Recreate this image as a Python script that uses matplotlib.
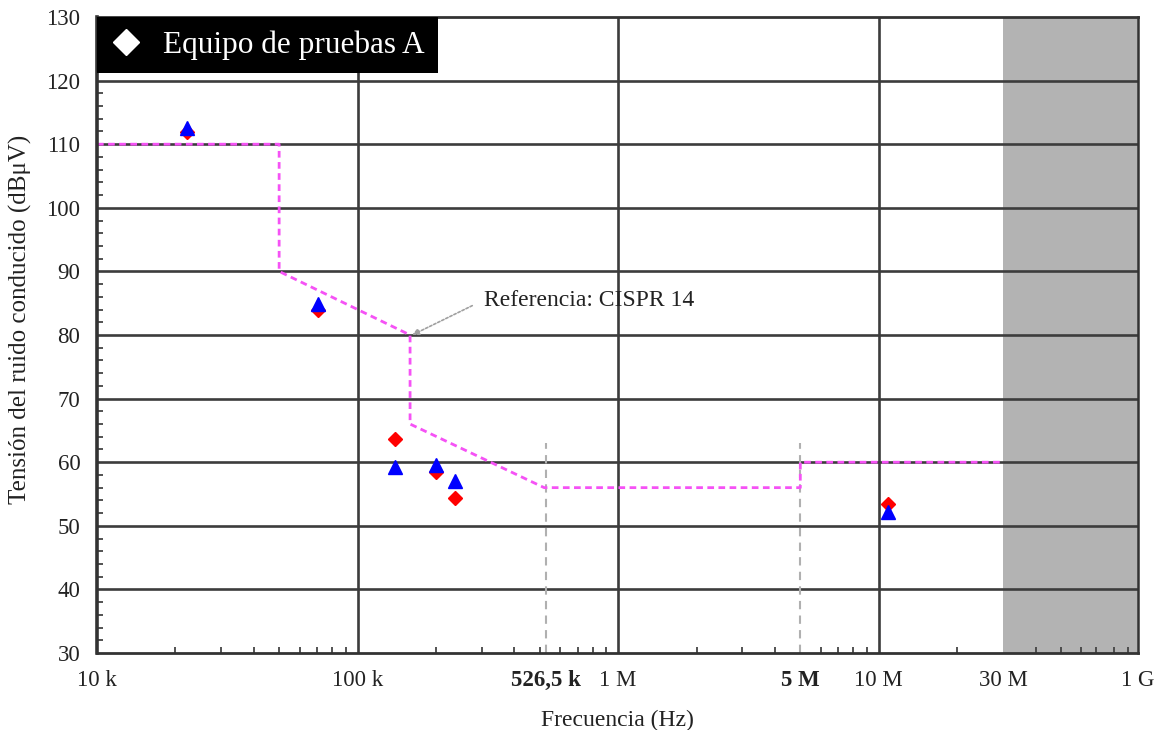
import numpy as np
import matplotlib
matplotlib.use("Agg")
import matplotlib.pyplot as plt
from matplotlib.lines import Line2D

plt.rcParams['font.family'] = ['Liberation Serif', 'DejaVu Serif']

# Measured conducted noise, test equipment A
freq_hz = [22.1e3, 70.7e3, 139e3, 200e3, 236e3, 10.9e6]
level_red = [111.9, 83.9, 63.6, 58.4, 54.4, 53.4]
level_blue = [112.5, 84.9, 59.3, 59.6, 57.0, 52.2]

# CISPR 14 reference limit (corner points)
limit_hz = [1e4, 5e4, 5e4, 1.59e5, 1.59e5, 5.2e5, 5e6, 5e6, 3e7]
limit_db = [110, 110, 90, 80, 66, 56, 56, 60, 60]

# Axis ticks
xtick_hz = [1e4, 1e5, 526.5e3, 1e6, 5e6, 1e7, 3e7, 1e9]
xtick_labels = ['10 k', '100 k', '526,5 k', '1 M', '5 M', '10 M', '30 M', '1 G']
bold_labels = ['526,5 k', '5 M']
marker_lines_hz = [526.5e3, 5e6]
ytick_db = list(range(30, 131, 10))

# Frequency axis: logarithmic up to 30 MHz, compressed above it
L30 = np.log10(3e7)
K = 0.34


def fwd(x):
    x = np.asarray(x, dtype=float)
    lx = np.log10(np.clip(x, 1e-300, None))
    return np.where(lx <= L30, lx, L30 + (lx - L30) * K)


def inv(y):
    y = np.asarray(y, dtype=float)
    return np.where(y <= L30, 10.0 ** y, 10.0 ** (L30 + (y - L30) / K))


fig = plt.figure(figsize=(11.56, 7.30), dpi=100)
ax = fig.add_axes([97 / 1156, 1 - 653 / 730, (1138 - 97) / 1156, (653 - 17) / 730])
ax.set_xscale('function', functions=(fwd, inv))
ax.set_xlim(1e4, 1e9)
ax.set_ylim(30, 130)

# Out-of-range band above 30 MHz
ax.axvspan(3e7, 1e9, color='#b3b3b3', zorder=0.5, lw=0)

# Grid
grid_col = '#3c3c3c'
for y in ytick_db[1:-1]:
    ax.axhline(y, color=grid_col, lw=1.9, zorder=1.5)
for xv in [1e5, 1e6, 1e7]:
    ax.axvline(xv, color=grid_col, lw=1.9, zorder=1.5)

# Band markers at 526.5 kHz and 5 MHz
for xv in marker_lines_hz:
    ax.plot([xv, xv], [30, 63], color='#b0b0b0', lw=1.5, ls=(0, (4, 3)), zorder=1.6)

# Reference limit
ax.plot(limit_hz, limit_db, color='#f552f5', lw=2.0, dashes=(2.4, 1.6), zorder=3)

# Measurements
ax.plot(freq_hz, level_red, ls='none', marker='D', ms=7, color='#ff0000', zorder=4)
ax.plot(freq_hz, level_blue, ls='none', marker='^', ms=10, color='#0000ff', zorder=5)

ax.annotate('Referencia: CISPR 14', xy=(1.62e5, 80), xytext=(3.05e5, 85.5),
            fontsize=17, color='#222222', ha='left', va='center',
            arrowprops=dict(arrowstyle='-|>', color='#a0a0a0', lw=1.2,
                            ls=(0, (1.5, 1.2)), shrinkA=7, shrinkB=0,
                            relpos=(0, 0.5), mutation_scale=10))

# Ticks
ax.set_xticks(xtick_hz)
ax.set_xticklabels(xtick_labels)
for lab in ax.get_xticklabels():
    if lab.get_text() in bold_labels:
        lab.set_fontweight('bold')
minor_hz = []
for dec in [1e4, 1e5, 1e6]:
    minor_hz += [m * dec for m in range(2, 10)]
minor_hz += [2e7, 3e7, 7e7, 1.35e8, 2.3e8, 3.4e8, 5.4e8, 7.7e8]
ax.set_xticks(minor_hz, minor=True)
ax.set_yticks(ytick_db)
ax.set_yticks(np.arange(30, 131, 2), minor=True)

ax.tick_params(axis='both', which='major', length=0, labelsize=16.5, colors='#222222')
ax.tick_params(axis='x', which='major', pad=12)
ax.tick_params(axis='y', which='major', pad=12)
ax.tick_params(axis='both', which='minor', direction='in', length=4.5, width=1.3,
               color='#444444')

for side, w in [('left', 2.6), ('bottom', 2.0), ('top', 2.0), ('right', 1.8)]:
    ax.spines[side].set_linewidth(w)
    ax.spines[side].set_color('#333333')
    ax.spines[side].set_zorder(6)

ax.set_xlabel('Frecuencia (Hz)', fontsize=17, color='#222222', labelpad=14)
ax.set_ylabel('Tensión del ruido conducido (dBμV)', fontsize=18, color='#222222')
ax.yaxis.set_label_coords(-0.062, 0.524)

# Legend
handle = Line2D([], [], ls='none', marker='D', ms=13, color='white')
leg = ax.legend([handle], ['Equipo de pruebas A'], loc='upper left',
                bbox_to_anchor=(0, 1), borderaxespad=0, fancybox=False,
                facecolor='black', edgecolor='black', framealpha=1,
                labelcolor='white', fontsize=22.5, handlelength=1.0,
                handletextpad=0.7, borderpad=0.42)
leg.get_frame().set_linewidth(0)
leg.set_zorder(7)

fig.savefig('out.png', dpi=100)
